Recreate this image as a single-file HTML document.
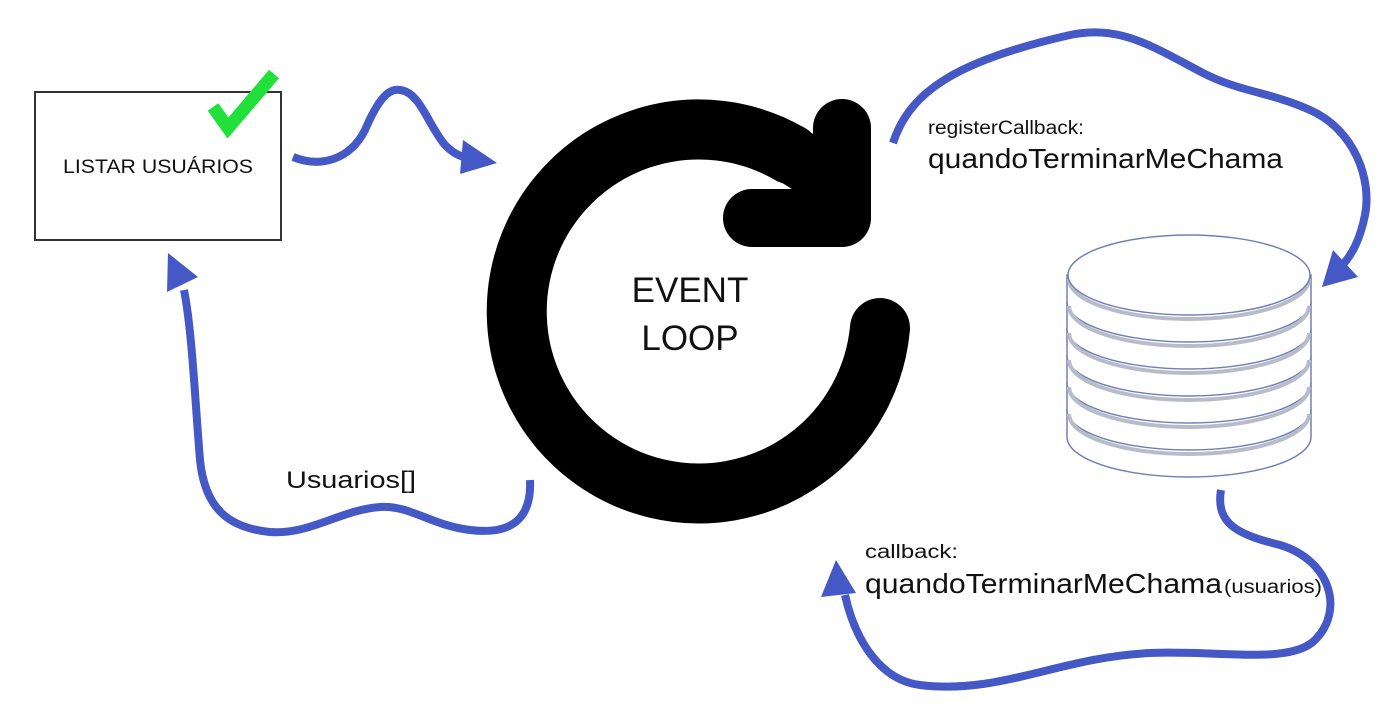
<!DOCTYPE html>
<html><head><meta charset="utf-8"><style>
html,body{margin:0;padding:0;background:#fff;}
svg{display:block;}
text{font-family:"Liberation Sans",sans-serif;fill:#111;}
</style></head><body>
<svg width="1400" height="708" viewBox="0 0 1400 708" xmlns="http://www.w3.org/2000/svg">
<rect width="1400" height="708" fill="#fff"/>
<!-- box -->
<rect x="35" y="92" width="246" height="148" fill="#fff" stroke="#333" stroke-width="2"/>
<text x="158" y="173" font-size="19" text-anchor="middle" textLength="190" lengthAdjust="spacingAndGlyphs">LISTAR USUÁRIOS</text>
<polyline points="213,107 228,128 274,74" fill="none" stroke="#22e03a" stroke-width="13" stroke-linejoin="miter" stroke-linecap="butt"/>

<!-- event loop -->
<path d="M880,328 A182,182 0 1 1 790,154" fill="none" stroke="#000" stroke-width="60" stroke-linecap="round"/>
<path d="M790,154 Q815,168 842,190" fill="none" stroke="#000" stroke-width="58"/>
<polyline points="752,218 842,218 842,128" fill="none" stroke="#000" stroke-width="58" stroke-linecap="round" stroke-linejoin="round"/>
<text x="690" y="302" font-size="35" text-anchor="middle">EVENT</text>
<text x="690" y="350" font-size="35" text-anchor="middle">LOOP</text>

<g fill="none" stroke="#4458c6" stroke-width="8" stroke-linecap="butt">
<path d="M293,157 C320,168 350,160 365,130 C378,100 388,88 400,90 C420,92 428,125 445,145 C452,152 458,156 468,158"/>
<path d="M893,143 C910,90 960,60 1070,35 C1120,25 1150,45 1203,73 C1240,92 1270,92 1310,110 C1355,130 1372,180 1365,215 C1360,240 1352,255 1340,268"/>
<path d="M1221,490 C1215,525 1240,535 1280,545 C1330,560 1345,610 1315,640 C1290,665 1220,650 1150,653 C1060,657 1000,695 920,685 C880,680 855,640 845,595"/>
<path d="M530,480 C532,520 510,535 470,530 C430,525 410,505 380,507 C340,510 310,535 270,532 C230,528 205,510 200,460 C195,400 192,330 184,290"/>
</g>
<g fill="#4458c6">
<polygon points="497,163 463,140 460,174"/>
<polygon points="1322,287 1333,250 1358,277"/>
<polygon points="836,560 821,597 856,593"/>
<polygon points="168,253 167,292 198,277"/>
</g>

<!-- database -->
<g stroke="#6f80b8" stroke-width="1.5" fill="#fff">
<path d="M1067,410 L1067,437 A122,40 0 0 0 1311,437 L1311,410 Z"/>
<path d="M1067,383 L1067,410 A122,40 0 0 0 1311,410 L1311,383 Z"/>
<path d="M1067,356 L1067,383 A122,40 0 0 0 1311,383 L1311,356 Z"/>
<path d="M1067,329 L1067,356 A122,40 0 0 0 1311,356 L1311,329 Z"/>
<path d="M1067,302 L1067,329 A122,40 0 0 0 1311,329 L1311,302 Z"/>
<path d="M1067,275 L1067,302 A122,40 0 0 0 1311,302 L1311,275 Z"/>
</g>
<g stroke="#b8bcc8" stroke-width="4" fill="none">
<path d="M1069,306 A120,40 0 0 0 1309,306"/>
<path d="M1069,333 A120,40 0 0 0 1309,333"/>
<path d="M1069,360 A120,40 0 0 0 1309,360"/>
<path d="M1069,387 A120,40 0 0 0 1309,387"/>
<path d="M1069,414 A120,40 0 0 0 1309,414"/>
<path d="M1069,279 A120,40 0 0 0 1309,279"/>
</g>
<ellipse cx="1189" cy="275" rx="121" ry="40" fill="#fff" stroke="#6f80b8" stroke-width="1.5"/>

<!-- labels -->
<text x="928" y="134" font-size="19" textLength="156" lengthAdjust="spacingAndGlyphs">registerCallback:</text>
<text x="928" y="168" font-size="28" textLength="355" lengthAdjust="spacingAndGlyphs">quandoTerminarMeChama</text>
<text x="865" y="558" font-size="19" textLength="93" lengthAdjust="spacingAndGlyphs">callback:</text>
<text x="865" y="593" font-size="28" textLength="357" lengthAdjust="spacingAndGlyphs">quandoTerminarMeChama</text>
<text x="1224" y="593" font-size="19" textLength="98" lengthAdjust="spacingAndGlyphs">(usuarios)</text>
<text x="286" y="488" font-size="24" textLength="130" lengthAdjust="spacingAndGlyphs">Usuarios[]</text>
</svg>
</body></html>
